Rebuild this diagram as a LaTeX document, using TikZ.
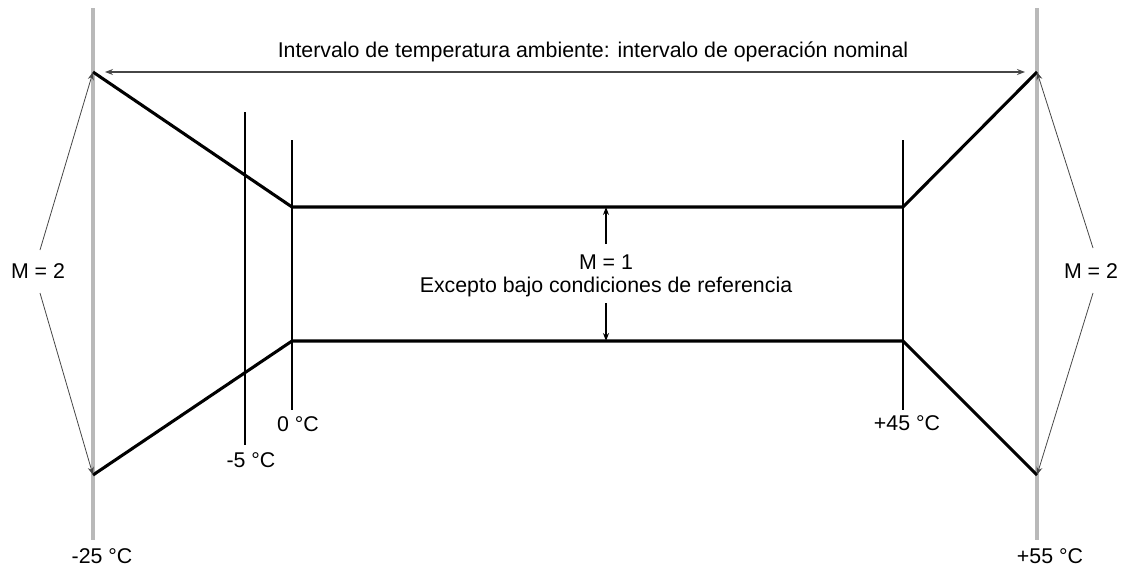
\documentclass[tikz,border=0pt]{standalone}
\usepackage{fontspec}
\setmainfont{Liberation Sans}
\usepackage{xcolor}
\usepackage{tikz}
\usetikzlibrary{arrows.meta, positioning}
\definecolor{axisgray}{RGB}{185, 185, 185}
\definecolor{arrowgray}{RGB}{70, 70, 70}
\tikzset{
    textnode/.style  = {draw=none, fill=none, rectangle, inner sep = 0em, 
      font=\fontsize{16}{19}\selectfont},
    axisline/.style = {line width=2.4pt, color=axisgray},
    tickline/.style = {line width=1.4pt, black},
    bandline/.style = {line width=2.3pt, black, line join=round},
    connect/.style = {line width=0.6pt, arrowgray, -{Stealth[length=6pt, width=4.5pt]}},
    every text node part/.style={align=center}
}

\begin{document}
\begin{tikzpicture}[x=0.75pt, y=-0.75pt]
    \useasboundingbox (0,0) rectangle (1123,571);

    % axes at -25 and +55
    \coordinate (axl1) at (93,8);    \coordinate (axl2) at (93,540);
    \coordinate (axr1) at (1037,8);  \coordinate (axr2) at (1037,540);
    \draw [axisline] (axl1) -- (axl2);
    \draw [axisline] (axr1) -- (axr2);
    \node [name=tm25, textnode] at (102,556) {-25 °C};
    \node [name=tp55, textnode] at (1050,556) {+55 °C};

    % ticks at -5, 0, +45
    \coordinate (tk51) at (245,112);  \coordinate (tk52) at (245,445);
    \coordinate (tk01) at (292,140);  \coordinate (tk02) at (292,410);
    \coordinate (tk451) at (903,140); \coordinate (tk452) at (903,410);
    \draw [tickline] (tk51) -- (tk52);
    \draw [tickline] (tk01) -- (tk02);
    \draw [tickline] (tk451) -- (tk452);
    \node [name=tm5, textnode] at (251,460) {-5 °C};
    \node [name=t0, textnode] at (298,424) {0 °C};
    \node [name=tp45, textnode] at (907,423) {+45 °C};

    % band
    \coordinate (lt) at (93,72);   \coordinate (lb) at (93,475);
    \coordinate (rt) at (1037,72); \coordinate (rb) at (1037,475);
    \coordinate (ilt) at (292,207); \coordinate (ilb) at (292,341);
    \coordinate (irt) at (903,207); \coordinate (irb) at (903,341);
    \draw [bandline] (lt) -- (ilt) -- (irt) -- (rt);
    \draw [bandline] (lb) -- (ilb) -- (irb) -- (rb);

    % nominal interval
    \node [name=interval, textnode] at (593,52) {Intervalo de temperatura ambiente: intervalo de operación nominal};
    \draw [connect, line width=0.9pt, {Stealth[length=6pt, width=4.5pt]}-{Stealth[length=6pt, width=4.5pt]},
        shorten <=9pt, shorten >=9pt] (lt) -- (rt);

    % M = 1
    \node [name=m1, textnode] at (606,262) {M = 1};
    \node [name=exc, textnode, below = 0.55em of m1] {Excepto bajo condiciones de referencia};
    \coordinate (m1up) at (606,207);  \coordinate (m1dn) at (606,341);
    \coordinate (m1a) at (606,244);   \coordinate (m1b) at (606,303);
    \draw (m1a) edge[connect, black, line width=0.8pt] (m1up);
    \draw (m1b) edge[connect, black, line width=0.8pt] (m1dn);

    % M = 2
    \node [name=m2l, textnode] at (38,271) {M = 2};
    \node [name=m2r, textnode] at (1091,271) {M = 2};
    \coordinate (m2la) at (40,250);   \coordinate (m2lb) at (40,293);
    \coordinate (m2ra) at (1093,248); \coordinate (m2rb) at (1093,293);
    \draw (m2la) edge[connect] (lt);
    \draw (m2lb) edge[connect] (lb);
    \draw (m2ra) edge[connect] (rt);
    \draw (m2rb) edge[connect] (rb);
\end{tikzpicture}
\end{document}
